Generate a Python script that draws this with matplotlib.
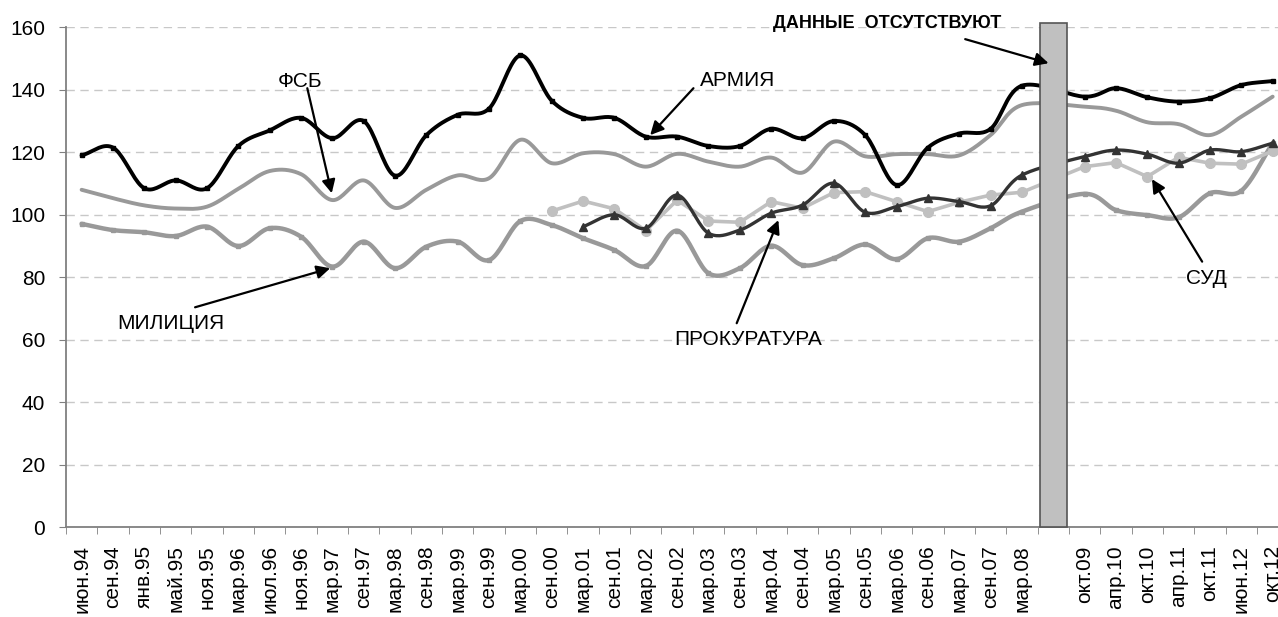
import numpy as np
import matplotlib.pyplot as plt

plt.rcParams['font.family'] = ['Liberation Sans', 'DejaVu Sans']

months = ['июн.94', 'сен.94', 'янв.95', 'май.95', 'ноя.95', 'мар.96', 'июл.96', 'ноя.96',
          'мар.97', 'сен.97', 'мар.98', 'сен.98', 'мар.99', 'сен.99', 'мар.00', 'сен.00',
          'мар.01', 'сен.01', 'мар.02', 'сен.02', 'мар.03', 'сен.03', 'мар.04', 'сен.04',
          'мар.05', 'сен.05', 'мар.06', 'сен.06', 'мар.07', 'сен.07', 'мар.08', '',
          'окт.09', 'апр.10', 'окт.10', 'апр.11', 'окт.11', 'июн.12', 'окт.12']

nan = np.nan
army = [119, 121.5, 108.5, 111, 108.5, 122, 127, 131, 124.5, 130, 112.5, 125.5, 132, 134,
        151, 136.5, 131, 131, 125, 125, 122, 122, 127.5, 124.5, 130, 125.5, 109.5, 121.5,
        126, 127.5, 141.3, nan, 137.8, 140.5, 137.6, 136.2, 137.3, 141.5, 142.8]
fsb = [108, 105.3, 103, 102, 102.6, 108.3, 114, 113, 104.7, 111, 102.2, 108, 112.6, 111.7,
       124, 116.5, 119.7, 119.4, 115.4, 119.5, 117, 115.4, 118.3, 113.5, 123.4, 118.7, 119.4,
       119.4, 119, 125.5, 135.1, nan, 134.6, 133.3, 129.6, 129, 125.5, 131.4, 137.8]
militia = [97.1, 95.1, 94.4, 93.2, 96.2, 90, 95.7, 93, 83.4, 91.4, 82.9, 89.8, 91.4, 85.5,
           98, 96.7, 92.5, 88.7, 83.6, 94.9, 81.3, 82.9, 90.1, 83.9, 86.1, 90.5, 85.8, 92.5,
           91.4, 95.7, 101, nan, 106.7, 101.5, 99.9, 99.2, 106.9, 107.7, 122.9]
court = [nan] * 16 + [96.2, 100, 95.7, 106.3, 94.1, 95.1, 100.5, 103.1, 110.1, 100.8, 102.6,
                      105.3, 104.2, 102.9, 112.7, nan, 118.6, 120.7, 119.4, 116.5, 120.7,
                      120.2, 122.9]
prosecutor = [nan] * 15 + [101.2, 104.4, 101.9, 94.9, 104.7, 98, 97.6, 104.2, 102.1, 107.1,
                           107.4, 104.2, 101, 104, 106.3, 107.2, nan, 115.4, 116.7, 112.2,
                           118.4, 116.5, 116.2, 120.4]
gap_index = 31
gap_height = 161.3


def smooth(x, y, steps=20):
    # catmull-rom, close to excel "smoothed line"
    px = np.concatenate([[2 * x[0] - x[1]], x, [2 * x[-1] - x[-2]]])
    py = np.concatenate([[2 * y[0] - y[1]], y, [2 * y[-1] - y[-2]]])
    t = np.linspace(0, 1, steps, endpoint=False)
    ox, oy = [], []
    for i in range(1, len(px) - 2):
        for p, out in ((px, ox), (py, oy)):
            p0, p1, p2, p3 = p[i - 1], p[i], p[i + 1], p[i + 2]
            out.extend(0.5 * (2 * p1 + (-p0 + p2) * t + (2 * p0 - 5 * p1 + 4 * p2 - p3) * t ** 2
                              + (-p0 + 3 * p1 - 3 * p2 + p3) * t ** 3))
    ox.append(x[-1])
    oy.append(y[-1])
    return ox, oy


def valid(vals):
    v = np.array(vals, dtype=float)
    idx = np.arange(len(v))
    m = ~np.isnan(v)
    return idx[m].astype(float), v[m]


fig = plt.figure(figsize=(12.78, 6.17), dpi=100)
ax = fig.add_axes([0.0516, 0.1454, 0.9565, 0.8104])

series = [
    (militia, '#999999', 3.2, 's', 2.5, True, 3),
    (fsb, '#999999', 2.8, None, 0, True, 4),
    (prosecutor, '#c0c0c0', 2.6, 'o', 7, False, 5),
    (court, '#333333', 2.4, '^', 6, True, 6),
    (army, '#000000', 2.8, 's', 3.5, True, 7),
]
for vals, col, lw, mk, ms, sm, z in series:
    x, y = valid(vals)
    if sm:
        sx, sy = smooth(x, y)
    else:
        sx, sy = x, y
    ax.plot(sx, sy, color=col, lw=lw, zorder=z, solid_capstyle='round')
    if mk:
        ax.plot(x, y, ls='none', marker=mk, ms=ms, color=col, zorder=z)

ax.bar(gap_index, gap_height, width=0.87, color='#c0c0c0', edgecolor='#555555',
       lw=1.2, zorder=10, clip_on=False)

ax.set_xlim(-0.5, len(months) - 0.5)
ax.set_ylim(0, 160)
ax.set_yticks(range(0, 161, 20))
ax.set_xticks(range(len(months)))
ax.set_xticklabels(months, rotation=90, fontsize=15)
ax.set_xticks(np.arange(-0.5, len(months), 1), minor=True)
ax.tick_params(axis='x', which='major', length=0, pad=13)
ax.tick_params(axis='x', which='minor', length=5, color='#808080')
ax.tick_params(axis='y', length=5, color='#808080', labelsize=15, pad=10)
ax.yaxis.grid(True, color='#c8c8c8', ls=(0, (6, 4)), lw=1)
ax.set_axisbelow(True)
for s in ['top', 'right']:
    ax.spines[s].set_visible(False)
for s in ['left', 'bottom']:
    ax.spines[s].set_color('#808080')
    ax.spines[s].set_linewidth(1.3)

arrow = dict(arrowstyle='-|>', color='black', lw=1.6, mutation_scale=20, shrinkA=0, shrinkB=0)
notes = [
    ('ФСБ', 6.97, 142.8, (7.2, 140.5), (7.98, 106.9)),
    ('АРМИЯ', 20.93, 143, (19.52, 140.5), (18.14, 125.5)),
    ('МИЛИЦИЯ', 2.83, 65.2, (3.62, 70.4), (7.93, 82.9)),
    ('ПРОКУРАТУРА', 21.26, 60, (20.9, 65.3), (22.23, 98.3)),
    ('СУД', 35.89, 79.5, (35.75, 85), (34.15, 111.4)),
]
for label, tx, ty, start, tip in notes:
    ax.text(tx, ty, label, ha='center', va='center', fontsize=15, zorder=12)
    ax.annotate('', xy=tip, xytext=start, arrowprops=arrow, zorder=12)

ax.text(25.7, 161.3, 'ДАННЫЕ  ОТСУТСТВУЮТ', ha='center', va='center', fontsize=13,
        fontweight='bold', zorder=12, clip_on=False)
ax.annotate('', xy=(30.85, 148.5), xytext=(28.19, 156.2), arrowprops=arrow, zorder=12,
            annotation_clip=False)

fig.savefig('out.png', dpi=100)
